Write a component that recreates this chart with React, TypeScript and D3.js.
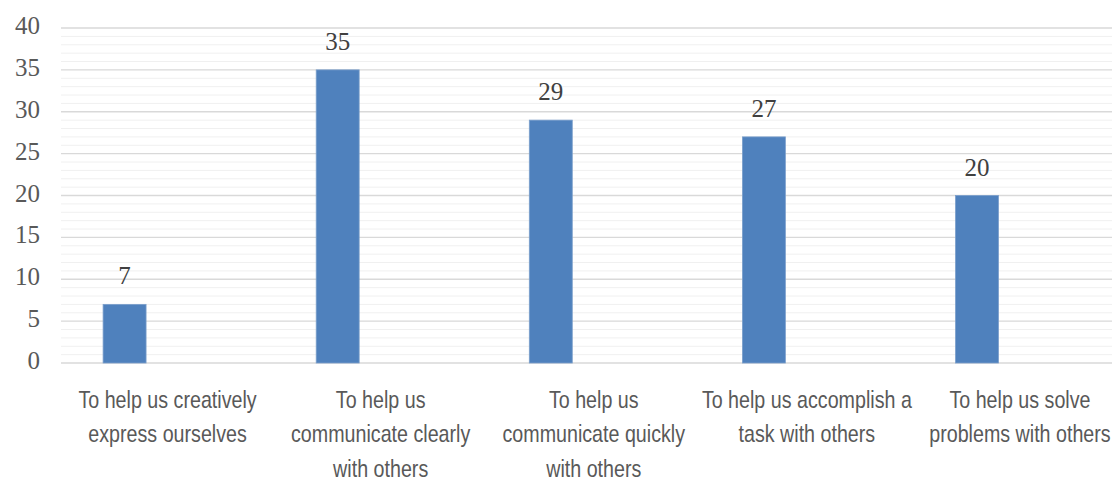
import * as d3 from "d3"

// chart data
const categories = [
  ["To help us creatively", "express ourselves"],
  ["To help us", "communicate clearly", "with others"],
  ["To help us", "communicate quickly", "with others"],
  ["To help us accomplish a", "task with others"],
  ["To help us solve", "problems with others"],
]
const values = [7, 35, 29, 27, 20]
const yTicks = [0, 5, 10, 15, 20, 25, 30, 35, 40]

const W = 1112
const H = 481
const margin = { top: 28, left: 61, bottom: 118 }
const bandW = 213.1

// no condensed font installed, so squeeze Liberation Sans horizontally
const labelFont = "'Liberation Sans', Arial, sans-serif"
const squeeze = 0.82
const numFont = "'Liberation Serif', 'Times New Roman', serif"

export default function App() {
  const x = d3
    .scaleBand<number>()
    .domain(d3.range(categories.length))
    .range([margin.left, margin.left + bandW * categories.length])
    .padding(0)

  const y = d3.scaleLinear().domain([0, 40]).range([H - margin.bottom, margin.top])

  // Excel-style cluster: the single series sits in the first of three slots
  const slot = d3.scaleBand<number>().domain([0, 1, 2]).range([0, x.bandwidth()]).paddingOuter(0.98).paddingInner(0)

  const minor = d3.range(0, 41).filter((v) => v % 5 !== 0)

  return (
    <div style={{ position: "absolute", left: 0, top: 0 }}>
      <svg width={W} height={H} style={{ display: "block", background: "#fff" }}>
        {/* minor grid */}
        {minor.map((v) => (
          <line key={"m" + v} x1={margin.left} x2={W} y1={y(v)} y2={y(v)} stroke="#f0f0f0" strokeWidth={1} />
        ))}
        {/* major grid */}
        {yTicks.map((v) => (
          <line key={"g" + v} x1={margin.left} x2={W} y1={y(v)} y2={y(v)} stroke="#d9d9d9" strokeWidth={1.3} />
        ))}
        {/* y tick labels */}
        {yTicks.map((v) => (
          <text key={"t" + v} x={40} y={y(v) + 6} textAnchor="end" fill="#595959" fontFamily={numFont} fontSize={25}>
            {v}
          </text>
        ))}
        {/* bars */}
        {values.map((v, i) => {
          const bx = (x(i) as number) + (slot(0) as number)
          return (
            <g key={"b" + i}>
              <rect x={bx} y={y(v)} width={slot.bandwidth()} height={y(0) - y(v)} fill="#4f81bd" stroke="#7b9fcb" strokeWidth={0.8} />
              <text x={bx + slot.bandwidth() / 2} y={y(v) - 20} textAnchor="middle" fill="#404040" fontFamily={numFont} fontSize={25}>
                {v}
              </text>
            </g>
          )
        })}
        {/* category labels */}
        {categories.map((lines, i) => (
          <g key={"c" + i} transform={`translate(${(x(i) as number) + x.bandwidth() / 2},408) scale(${squeeze},1)`}>
            <text textAnchor="middle" fill="#595959" fontFamily={labelFont} fontSize={24}>
              {lines.map((l, j) => (
                <tspan key={j} x={0} dy={j === 0 ? 0 : 34.5}>
                  {l}
                </tspan>
              ))}
            </text>
          </g>
        ))}
      </svg>
    </div>
  )
}
